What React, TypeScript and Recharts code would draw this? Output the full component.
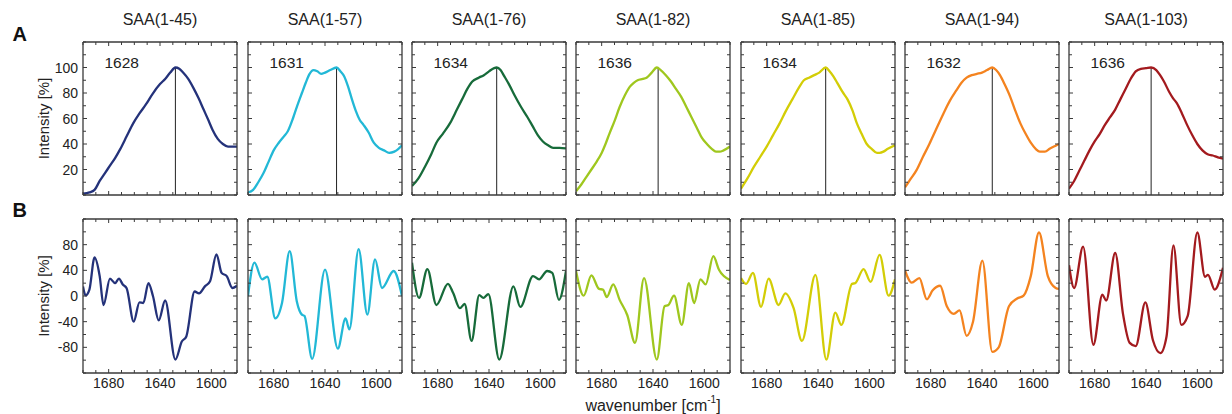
import React from 'react';
import { LineChart, Line, XAxis, YAxis, ReferenceLine } from 'recharts';

// ---------- labels ----------
const titles = ['SAA(1-45)', 'SAA(1-57)', 'SAA(1-76)', 'SAA(1-82)', 'SAA(1-85)', 'SAA(1-94)', 'SAA(1-103)'];
const peakPositions = [1628, 1631, 1634, 1636, 1634, 1632, 1636];
const colors = ['#24327a', '#22b8d6', '#176b3a', '#9fc71e', '#d3cd06', '#f4831f', '#a31a1e'];

// ---------- ticks ----------
const xTicks = [1700, 1690, 1680, 1670, 1660, 1650, 1640, 1630, 1620, 1610, 1600, 1590, 1580];
const xTickLabels = [1680, 1640, 1600];
const yTicksTop = [0, 10, 20, 30, 40, 50, 60, 70, 80, 90, 100, 110, 120];
const yTickLabelsTop = [20, 40, 60, 80, 100];
const yTicksBottom = [-120, -100, -80, -60, -40, -20, 0, 20, 40, 60, 80, 100, 120];
const yTickLabelsBottom = [-80, -40, 0, 40, 80];

// ---------- A: normalized spectra ----------
const absWn45 = [1700, 1695, 1691, 1687, 1683, 1679, 1675, 1671, 1666, 1661, 1656, 1651, 1646, 1640, 1636, 1632, 1628, 1625, 1622, 1618, 1614, 1610, 1606, 1602, 1599, 1595, 1591, 1587, 1583, 1580];
const abs45 = [1, 2, 4, 11, 17, 23, 29, 36, 46, 56, 64, 71, 79, 87, 91, 96, 100, 99, 96, 91, 84, 76, 67, 58, 51, 44, 40, 38, 38, 38];

const absWn57 = [1700, 1696, 1692, 1688, 1684, 1680, 1676, 1672, 1669, 1665, 1662, 1658, 1655, 1652, 1649, 1646, 1643, 1640, 1636, 1631, 1628, 1625, 1622, 1619, 1616, 1613, 1610, 1606, 1602, 1598, 1594, 1590, 1586, 1583, 1580];
const abs57 = [2, 4, 10, 17, 26, 35, 41, 46, 50, 60, 69, 80, 88, 95, 98, 97, 95, 96, 98, 100, 97, 93, 85, 75, 66, 59, 55, 49, 41, 37, 35, 33, 34, 36, 39];

const absWn76 = [1700, 1695, 1690, 1685, 1681, 1676, 1670, 1665, 1661, 1657, 1653, 1648, 1644, 1640, 1636, 1634, 1631, 1628, 1624, 1620, 1615, 1610, 1606, 1602, 1598, 1594, 1590, 1585, 1580];
const abs76 = [7, 13, 22, 32, 41, 48, 57, 67, 75, 83, 89, 92, 94, 97, 99.5, 100, 98, 93, 86, 78, 69, 61, 54, 47, 42, 39, 37, 37, 36.5];

const absWn82 = [1700, 1696, 1692, 1688, 1684, 1680, 1677, 1674, 1670, 1666, 1662, 1658, 1655, 1652, 1648, 1645, 1641, 1637, 1634, 1630, 1626, 1622, 1618, 1614, 1610, 1606, 1602, 1598, 1594, 1591, 1588, 1585, 1580];
const abs82 = [3, 8, 14, 20, 26, 33, 40, 48, 58, 69, 78, 85, 88, 90, 91, 92, 96, 100, 98, 94, 89, 83, 77, 69, 61, 53, 45, 40, 36, 34, 34, 35, 38];

const absWn85 = [1700, 1695, 1690, 1685, 1680, 1675, 1670, 1665, 1660, 1655, 1651, 1647, 1643, 1639, 1634, 1631, 1628, 1625, 1621, 1617, 1613, 1610, 1606, 1602, 1598, 1594, 1592, 1589, 1586, 1580];
const abs85 = [5, 13, 22, 30, 38, 47, 56, 66, 75, 84, 90, 92, 94, 96, 100, 97, 93, 88, 81, 75, 66, 57, 48, 40, 36, 33, 33, 34, 36, 39];

const absWn94 = [1700, 1696, 1691, 1686, 1681, 1676, 1670, 1665, 1660, 1656, 1652, 1648, 1644, 1640, 1636, 1632, 1629, 1626, 1622, 1618, 1614, 1610, 1606, 1602, 1598, 1595, 1591, 1587, 1583, 1580];
const abs94 = [6, 12, 19.5, 30, 40, 51, 64, 74, 82, 88, 92, 94, 95, 96, 98, 100, 98, 94, 86, 77, 66, 56, 48, 41, 36, 34, 34, 36.5, 38.5, 40];

const absWn103 = [1700, 1696, 1692, 1688, 1684, 1680, 1676, 1672, 1668, 1664, 1660, 1656, 1652, 1648, 1644, 1640, 1636, 1632, 1629, 1626, 1622, 1619, 1616, 1612, 1608, 1604, 1600, 1596, 1592, 1588, 1584, 1580];
const abs103 = [5, 11, 19, 27, 35, 42, 48, 55, 61, 67, 75, 83, 91, 97, 99, 99.5, 100, 98, 94, 89, 81, 76, 72, 64, 55, 47, 40, 35, 32, 31, 29.5, 28.5];

// ---------- B: second derivatives ----------
const derWn45 = [1700, 1698, 1695, 1691, 1687, 1684, 1679, 1675, 1672, 1669, 1666, 1660.5, 1656, 1653, 1649, 1645.5, 1641, 1636, 1628, 1623, 1619.5, 1613, 1609.6, 1605, 1601, 1596, 1592, 1588, 1583.6, 1580];
const der45 = [15, 1, 10, 60, 31, -14, 27, 20, 27, 18, 12, -40, -10, -11, 20, 0, -38, -7, -99, -71, -63, 7, 4, 15, 23, 65, 36, 31, 12.5, 16];

const derWn57 = [1700, 1695, 1689, 1685, 1678.7, 1673.5, 1667.5, 1662, 1658, 1656, 1650, 1640, 1630, 1624, 1621, 1613.8, 1607, 1601, 1595.6, 1586.5, 1580];
const der57 = [0, 52, 26, 30, -35, -11, 70, -8, -29, -31, -98, 41, -82, -35, -52, 73, -29, 57, 12.5, 39, 0];

const derWn76 = [1700, 1694.5, 1688, 1681, 1672, 1668, 1662.7, 1659, 1653.6, 1647.6, 1644.4, 1640.5, 1632, 1621, 1615.6, 1605.7, 1601, 1594.7, 1590.7, 1585.5, 1580];
const der76 = [52, -3, 42, -14, 19, 5, -19, -12.5, -70, 1.5, -3, 3, -99, 15, -17, 31, 26, 39, 36, -6, 39];

const derWn82 = [1700, 1694, 1688, 1682, 1679, 1676, 1671, 1666, 1660, 1654, 1647, 1637, 1631, 1628, 1623.6, 1617.6, 1612, 1608, 1603, 1599, 1593, 1588.6, 1580];
const der82 = [39, 0.5, 32, 11, 10, -1.6, 18, -6, -30, -73, 28, -99, -16, -14, 0.5, -45, 20, -11, 26, 18, 62, 41, 25];

const derWn85 = [1700, 1696, 1690.7, 1684.4, 1678.5, 1670.7, 1665.5, 1659, 1652.5, 1642, 1633.5, 1626.5, 1621.8, 1613.5, 1611, 1604.5, 1599, 1592, 1585, 1580];
const der85 = [28, 19, 36, -17, 27, -14, 4, -19, -70, 33, -99, -26, -45, 19, 20, 42, 22, 64, 0.5, 26];

const derWn94 = [1700, 1694.8, 1688.8, 1683, 1678.4, 1672.6, 1667.4, 1662, 1657.5, 1652, 1647, 1639.7, 1632, 1627, 1619, 1612.6, 1607.6, 1602, 1595.6, 1588.7, 1582.6, 1580];
const der94 = [40, 21, 28, -5, 9, 16, -16, -28, -22.5, -62, -40, 55, -87, -80, -16, -4, 0.5, 31, 99, 31, 12.5, 11];

const derWn103 = [1700, 1696, 1689, 1681, 1674, 1671, 1664, 1658, 1652.7, 1648, 1640.5, 1634.6, 1628.8, 1624, 1618.6, 1612.5, 1607.5, 1600, 1594, 1591.7, 1586.5, 1580];
const der103 = [48, 12.5, 77, -76, 2, -7, 67, -27, -73, -78, -10, -69, -89, -63, 79, -45, -31, 99, 30, 33, 10, 44];

const absWn = [absWn45, absWn57, absWn76, absWn82, absWn85, absWn94, absWn103];
const absVals = [abs45, abs57, abs76, abs82, abs85, abs94, abs103];
const derWn = [derWn45, derWn57, derWn76, derWn82, derWn85, derWn94, derWn103];
const derVals = [der45, der57, der76, der82, der85, der94, der103];

const rows = (wn: number[], v: number[]) => wn.map((w, i) => ({ wn: w, v: v[i] }));

// ---------- layout ----------
const FONT = '"Liberation Sans", Arial, Helvetica, sans-serif';
const PANEL_W = 154;
const panelLeft = (i: number) => Math.round(83.3 + 164.33 * i);
const TOP_A = 42;
const H_A = 153;
const TOP_B = 219;
const H_B = 154;
const ML = 46, MR = 6, MT = 6, MB = 26;
const AX = 1; // thickness given to each axis box
const FRAME = '#3a3a3a';

type Side = 'left' | 'right' | 'top' | 'bottom';

function makeTick(side: Side, labelled: number[], showLabels: boolean) {
  return (props: any) => {
    const { x, y, payload } = props;
    const v = payload.value;
    const major = labelled.includes(v);
    const len = major ? 4 : 3;
    let x2 = x, y2 = y;
    if (side === 'left') x2 = x + len;
    if (side === 'right') x2 = x - len;
    if (side === 'top') y2 = y + len;
    if (side === 'bottom') y2 = y - len;
    let label = null;
    if (showLabels && major) {
      if (side === 'left') {
        label = (
          <text x={x - 5} y={y} textAnchor="end" dominantBaseline="central" fontSize={14} fontFamily={FONT} fill="#222">
            {v}
          </text>
        );
      } else if (side === 'bottom') {
        label = (
          <text x={x} y={y + 10} textAnchor="middle" dominantBaseline="central" fontSize={14} fontFamily={FONT} fill="#222">
            {v}
          </text>
        );
      }
    }
    return (
      <g>
        <line x1={x} y1={y} x2={x2} y2={y2} stroke={FRAME} strokeWidth={1} />
        {label}
      </g>
    );
  };
}

function Panel(props: {
  i: number;
  data: { wn: number; v: number }[];
  top: number;
  height: number;
  yDomain: [number, number];
  yTicks: number[];
  yLabels: number[];
  showX: boolean;
  peak?: number;
}) {
  const { i, data, top, height, yDomain, yTicks, yLabels, showX, peak } = props;
  const left = panelLeft(i);
  return (
    <div style={{ position: 'absolute', left: left - ML, top: top - MT }}>
      <LineChart
        width={ML + PANEL_W + MR}
        height={MT + height + MB}
        data={data}
        margin={{ top: MT - AX, right: MR - AX, bottom: MB - AX, left: ML - AX }}
      >
        <XAxis
          dataKey="wn"
          type="number"
          domain={[1580, 1700]}
          allowDataOverflow
          reversed
          ticks={xTicks}
          interval={0}
          height={AX}
          tickSize={0}
          tickMargin={0}
          tickLine={false}
          axisLine={{ stroke: FRAME, strokeWidth: 1.3 }}
          tick={makeTick('bottom', xTickLabels, showX)}
        />
        <XAxis
          xAxisId="t"
          orientation="top"
          dataKey="wn"
          type="number"
          domain={[1580, 1700]}
          allowDataOverflow
          reversed
          ticks={xTicks}
          interval={0}
          height={AX}
          tickSize={0}
          tickMargin={0}
          tickLine={false}
          axisLine={{ stroke: FRAME, strokeWidth: 1.3 }}
          tick={makeTick('top', xTickLabels, false)}
        />
        <YAxis
          type="number"
          domain={yDomain}
          allowDataOverflow
          ticks={yTicks}
          interval={0}
          width={AX}
          tickSize={0}
          tickMargin={0}
          tickLine={false}
          axisLine={{ stroke: FRAME, strokeWidth: 1.3 }}
          tick={makeTick('left', yLabels, i === 0)}
        />
        <YAxis
          yAxisId="r"
          orientation="right"
          type="number"
          domain={yDomain}
          allowDataOverflow
          ticks={yTicks}
          interval={0}
          width={AX}
          tickSize={0}
          tickMargin={0}
          tickLine={false}
          axisLine={{ stroke: FRAME, strokeWidth: 1.3 }}
          tick={makeTick('right', yLabels, false)}
        />
        {peak !== undefined && (
          <ReferenceLine
            segment={[{ x: peak, y: 0 }, { x: peak, y: 100 }]}
            stroke="#222"
            strokeWidth={1}
            ifOverflow="visible"
          />
        )}
        <Line
          type="monotone"
          dataKey="v"
          stroke={colors[i]}
          strokeWidth={2.3}
          dot={false}
          activeDot={false}
          isAnimationActive={false}
        />
      </LineChart>
    </div>
  );
}

export default function App() {
  return (
    <div style={{ position: 'absolute', left: 0, top: 0, width: 1232, height: 414, background: '#fff', overflow: 'hidden' }}>
      {titles.map((t, i) => (
        <Panel
          key={'a' + i}
          i={i}
          data={rows(absWn[i], absVals[i])}
          top={TOP_A}
          height={H_A}
          yDomain={[0, 120]}
          yTicks={yTicksTop}
          yLabels={yTickLabelsTop}
          showX={false}
          peak={peakPositions[i]}
        />
      ))}
      {titles.map((t, i) => (
        <Panel
          key={'b' + i}
          i={i}
          data={rows(derWn[i], derVals[i])}
          top={TOP_B}
          height={H_B}
          yDomain={[-120, 120]}
          yTicks={yTicksBottom}
          yLabels={yTickLabelsBottom}
          showX={true}
        />
      ))}
      <svg width={1232} height={414} style={{ position: 'absolute', left: 0, top: 0, pointerEvents: 'none' }} fontFamily={FONT}>
        {titles.map((t, i) => (
          <text key={'t' + i} x={panelLeft(i) + PANEL_W / 2} y={19.5} textAnchor="middle" dominantBaseline="central" fontSize={16} fill="#222">
            {t}
          </text>
        ))}
        {peakPositions.map((p, i) => (
          <text key={'p' + i} x={panelLeft(i) + 21.5} y={62} textAnchor="start" dominantBaseline="central" fontSize={15.5} fill="#222">
            {p}
          </text>
        ))}
        <text x={12.5} y={34} dominantBaseline="central" fontSize={20} fontWeight="bold" fill="#111">A</text>
        <text x={12.5} y={210} dominantBaseline="central" fontSize={20} fontWeight="bold" fill="#111">B</text>
        <text x={43.5} y={118.5} transform="rotate(-90 43.5 118.5)" textAnchor="middle" dominantBaseline="central" fontSize={15} fill="#222">
          Intensity [%]
        </text>
        <text x={43.5} y={296} transform="rotate(-90 43.5 296)" textAnchor="middle" dominantBaseline="central" fontSize={15} fill="#222">
          Intensity [%]
        </text>
        <text x={653} y={405} textAnchor="middle" dominantBaseline="central" fontSize={16} fill="#222">
          wavenumber [cm
          <tspan fontSize={10} dy={-6}>-1</tspan>
          <tspan dy={6}>]</tspan>
        </text>
      </svg>
    </div>
  );
}
